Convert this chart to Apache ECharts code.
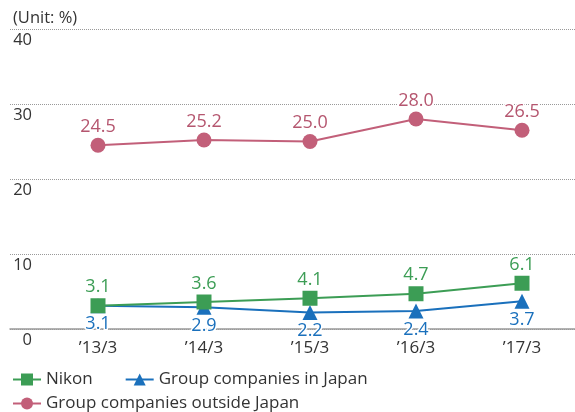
<!DOCTYPE html>
<html>
<head>
<meta charset="utf-8">
<script src="https://cdn.jsdelivr.net/npm/echarts@6/dist/echarts.min.js"></script>
<style>html,body{margin:0;padding:0;background:#fff;}#c{width:575px;height:412px;}</style>
</head>
<body>
<div id="c"></div>
<script>
var categories = ["\u201913/3", "\u201914/3", "\u201915/3", "\u201916/3", "\u201917/3"];
var nikon = [3.1, 3.6, 4.1, 4.7, 6.1];
var japan = [3.1, 2.9, 2.2, 2.4, 3.7];
var outside = [24.5, 25.2, 25.0, 28.0, 26.5];
var yTicks = { min: 0, max: 40, interval: 10 };

var FONT = "Open Sans";
var GREEN = "#3c9d55", BLUE = "#1a70bc", PINK = "#c25f79";

var chart = echarts.init(document.getElementById('c'));
function lbl(color, pos) {
  return { show: true, position: pos, distance: 2, color: color, fontFamily: FONT, fontSize: 18,
           formatter: function (p) { return p.value.toFixed(1); },
           textBorderColor: '#fff', textBorderWidth: 3 };
}
chart.setOption({
  animation: false,
  title: { text: '(Unit: %)', left: 8, top: 5, textStyle: { fontFamily: FONT, fontSize: 16.5, fontWeight: 'normal', color: '#333' } },
  grid: [
    { left: 10, right: 0, top: 29, bottom: 83 },
    { left: 45, width: 532, top: 29, bottom: 83 }
  ],
  xAxis: [
    { gridIndex: 0, type: 'value', min: 0, max: 1, axisLabel: { show: false }, axisTick: { show: false }, splitLine: { show: false },
      axisLine: { show: true, lineStyle: { color: '#999', width: 1.5 } } },
    { gridIndex: 1, type: 'category', data: categories, boundaryGap: true,
      axisLine: { show: false }, axisTick: { show: false },
      axisLabel: { color: '#333', fontFamily: FONT, fontSize: 17, margin: 11 } }
  ],
  yAxis: [
    { gridIndex: 0, type: 'value', min: yTicks.min, max: yTicks.max, interval: yTicks.interval,
      axisLine: { show: false }, axisTick: { show: false },
      axisLabel: { inside: true, align: 'right', verticalAlign: 'top', margin: 22, padding: [3, 0, 0, 0], color: '#333', fontFamily: FONT, fontSize: 16.5 },
      splitLine: { show: true, lineStyle: { color: '#999', type: [1, 1], width: 1 } } },
    { gridIndex: 1, type: 'value', min: yTicks.min, max: yTicks.max, interval: yTicks.interval, show: false }
  ],
  legend: [
    { left: 7, top: 366, itemWidth: 28, itemHeight: 15, itemGap: 32, data: ['Nikon', 'Group companies in Japan'],
      textStyle: { fontFamily: FONT, fontSize: 17, color: '#333' } },
    { left: 7, top: 390, itemWidth: 28, itemHeight: 15, data: ['Group companies outside Japan'],
      textStyle: { fontFamily: FONT, fontSize: 17, color: '#333' } }
  ],
  series: [
    { name: 'Group companies outside Japan', type: 'line', xAxisIndex: 1, yAxisIndex: 1, data: outside,
      symbol: 'circle', symbolSize: 15, itemStyle: { color: PINK }, lineStyle: { color: PINK, width: 2 },
      label: lbl('#b5566f', 'top') },
    { name: 'Group companies in Japan', type: 'line', xAxisIndex: 1, yAxisIndex: 1, data: japan,
      symbol: 'triangle', symbolSize: 15, itemStyle: { color: BLUE }, lineStyle: { color: BLUE, width: 2 },
      label: lbl(BLUE, 'bottom') },
    { name: 'Nikon', type: 'line', xAxisIndex: 1, yAxisIndex: 1, data: nikon,
      symbol: 'rect', symbolSize: 15, itemStyle: { color: GREEN }, lineStyle: { color: GREEN, width: 2 },
      label: lbl(GREEN, 'top') }
  ]
});
</script>
</body>
</html>
